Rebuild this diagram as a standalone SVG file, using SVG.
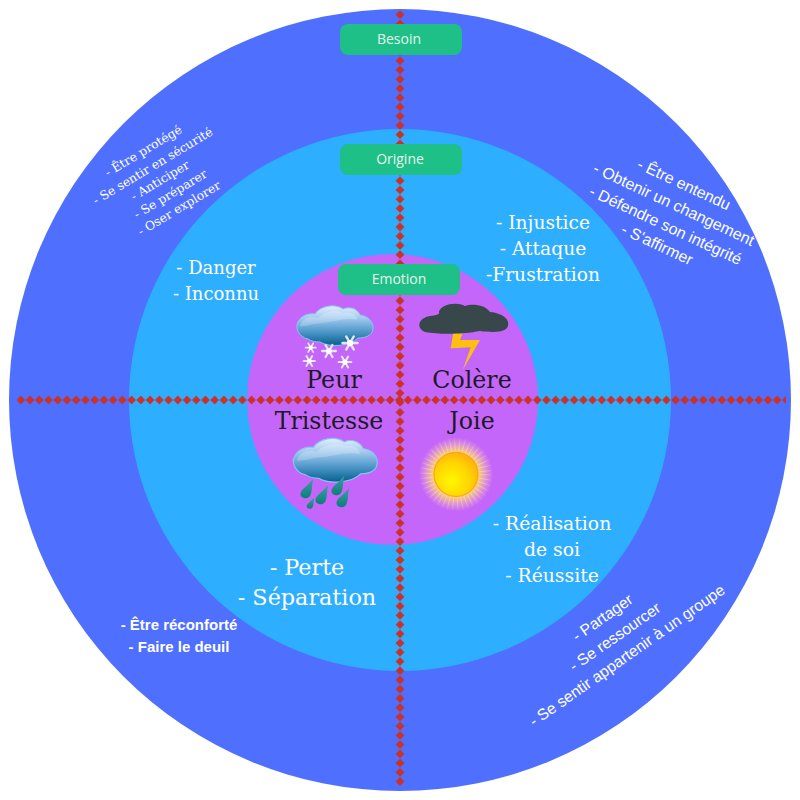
<svg xmlns="http://www.w3.org/2000/svg" width="800" height="800" viewBox="0 0 800 800">
<style>
.ser{font-family:"DejaVu Serif","Liberation Serif",serif}
.san{font-family:"Liberation Sans",Arial,sans-serif}
.w{fill:#fff}
.m{text-anchor:middle}
.emo{font-size:23.700px;fill:#1c1a22;text-anchor:middle}
.pill{fill:#1fbf88}
.pt{font-family:"Open Sans","Noto Sans",sans-serif;font-size:14px;fill:#e6f6ef;text-anchor:middle}
.flake line{stroke:#e4e6ea;stroke-width:2;stroke-linecap:round}
.flake circle{fill:#fff}
.drop{fill:url(#dropG)}
.conn{stroke-width:10;fill:none}
</style>
<defs>
<pattern id="hL" patternUnits="userSpaceOnUse" x="394.700" y="395" width="9.230" height="10"><path d="M4.600 .5L9 5L4.600 9.500L.2 5Z" fill="#c8322a"/></pattern>
<pattern id="hR" patternUnits="userSpaceOnUse" x="403.400" y="395" width="9.230" height="10"><path d="M4.600 .5L9 5L4.600 9.500L.2 5Z" fill="#c8322a"/></pattern>
<pattern id="vT" patternUnits="userSpaceOnUse" x="395" y="397.700" width="10" height="9.230"><path d="M5 .2L9.500 4.600L5 9L.5 4.600Z" fill="#c8322a"/></pattern>
<pattern id="vB" patternUnits="userSpaceOnUse" x="395" y="407.700" width="10" height="9.230"><path d="M5 .2L9.500 4.600L5 9L.5 4.600Z" fill="#c8322a"/></pattern>
<linearGradient id="cloudG" x1="0" y1="0" x2="0" y2="1"><stop offset="0" stop-color="#e3effd"/><stop offset=".3" stop-color="#a4cbee"/><stop offset=".6" stop-color="#5a9fd0"/><stop offset="1" stop-color="#04618f"/></linearGradient>
<linearGradient id="dropG" x1="0" y1="0" x2="0" y2="1"><stop offset="0" stop-color="#3f9fa8"/><stop offset="1" stop-color="#0b7f78"/></linearGradient>
<radialGradient id="sunG" cx=".4" cy=".65" r=".7"><stop offset="0" stop-color="#fff700"/><stop offset=".6" stop-color="#ffd400"/><stop offset="1" stop-color="#ffac10"/></radialGradient>
<radialGradient id="haloG"><stop offset=".6" stop-color="#ffd76a" stop-opacity=".95"/><stop offset=".8" stop-color="#ffd0a0" stop-opacity=".45"/><stop offset="1" stop-color="#ffc8c0" stop-opacity="0"/></radialGradient>
<radialGradient id="rayG" gradientUnits="userSpaceOnUse" cx="456" cy="474.300" r="37"><stop offset=".6" stop-color="#ffe27a" stop-opacity=".9"/><stop offset="1" stop-color="#ffe9b0" stop-opacity="0"/></radialGradient>
<g id="cloud">
<path d="M308 339C298 337 295 327 298 322C301 315 310 313 315 314C320 306 335 303 343 309C350 306 358 309 360 315C368 316 374 322 373 329C372 336 365 338 358 338C350 346 330 348 320 342C315 342 311 341 308 339Z" fill="url(#cloudG)" stroke="#86c6f4" stroke-width="1"/>
<path d="M300 326C302 318 312 316 318 318C326 310 338 310 344 313C352 311 358 316 357 320C345 317 335 322 322 323C315 323 305 327 300 326Z" fill="#fff" opacity=".22"/>
</g>
<g id="flake" class="flake"><line x1="-6" y1="0" x2="6" y2="0"/><line x1="-3" y1="-5.200" x2="3" y2="5.200"/><line x1="-3" y1="5.200" x2="3" y2="-5.200"/><circle r="2.500"/></g>
<path id="drop" class="drop" d="M7 -13C6 -7 6 -2 5 1.500C4.500 5 1 7 -2 6C-5.500 5 -6.500 2 -4.500 -1C-2.500 -4 2 -7 7 -13Z"/>
</defs>

<rect width="800" height="800" fill="#fff"/>
<circle id="outer-ring" cx="400" cy="400" r="391" fill="#4f6fff"/>
<circle id="middle-ring" cx="400" cy="400" r="271" fill="#2eaeff"/>
<circle id="inner-ring" cx="392.500" cy="399.500" r="145.500" fill="#c466fa"/>

<g id="connectors" class="conn">
<line x1="17" y1="400" x2="403.900" y2="400" stroke="url(#hL)"/>
<line x1="403.400" y1="400" x2="786" y2="400" stroke="url(#hR)"/>
<line x1="400" y1="11" x2="400" y2="406.900" stroke="url(#vT)"/>
<line x1="400" y1="407.700" x2="400" y2="786" stroke="url(#vB)"/>
</g>

<g id="icon-snow">
<use href="#cloud"/>
<use href="#flake" transform="translate(310.700,347.700) scale(.85)"/>
<use href="#flake" transform="translate(329,351) scale(1.15)"/>
<use href="#flake" transform="translate(350,343) scale(1.25)"/>
<use href="#flake" transform="translate(309.300,361) scale(.95)"/>
<use href="#flake" transform="translate(345,362) scale(1.05)"/>
</g>
<g id="icon-storm">
<polygon points="453.300,333 462.700,333 460,340 480,340 462.700,370 470.700,347.300 450.700,348.300" fill="#fdc010"/>
<path d="M425 332C416 328 418 318 430 316C436 315 440 315 439 312C440 305 456 301 465 306C472 303 486 305 490 312C502 313 510 319 508 326C506 332 496 333 480 331C465 334 440 335 425 332Z" fill="#37474a"/>
</g>
<g id="icon-rain">
<use href="#cloud" transform="translate(293,437.500) scale(1.1) translate(-296.500,-305)"/>
<use href="#drop" transform="translate(306,492)"/>
<use href="#drop" transform="translate(321,498)"/>
<use href="#drop" transform="translate(337,489)"/>
<use href="#drop" transform="translate(342,501)"/>
<use href="#drop" transform="translate(310,505) scale(.6)"/>
</g>
<g id="icon-sun">
<circle cx="456" cy="474.300" r="37" fill="url(#haloG)"/>
<circle cx="456" cy="474.300" r="30" fill="none" stroke="url(#rayG)" stroke-width="14" stroke-dasharray="1 3.500"/>
<circle cx="456" cy="474.300" r="22" fill="url(#sunG)" stroke="#f9a61a" stroke-width="1.200"/>
</g>

<g id="node-peur"><text class="ser emo" x="334" y="388">Peur</text></g>
<g id="node-colere"><text class="ser emo" x="472" y="388">Colère</text></g>
<g id="node-tristesse"><text class="ser emo" x="329" y="429">Tristesse</text></g>
<g id="node-joie"><text class="ser emo" x="472" y="429">Joie</text></g>

<g id="node-besoin"><rect class="pill" x="340" y="24" width="122" height="31" rx="8"/><text class="pt" x="399" y="44">Besoin</text></g>
<g id="node-origine"><rect class="pill" x="340" y="144" width="122" height="31" rx="8"/><text class="pt" x="400" y="164">Origine</text></g>
<g id="node-emotion"><rect class="pill" x="338" y="264" width="122" height="31" rx="8"/><text class="pt" x="399" y="284">Emotion</text></g>

<g id="origine-peur" class="ser w m" font-size="18"><text x="216" y="274">- Danger</text><text x="216" y="300">- Inconnu</text></g>
<g id="origine-colere" class="ser w m" font-size="18.700"><text x="543" y="229">- Injustice</text><text x="543" y="255">- Attaque</text><text x="543" y="281">-Frustration</text></g>
<g id="origine-tristesse" class="ser w m" font-size="22.300"><text x="307" y="575">- Perte</text><text x="307" y="605">- Séparation</text></g>
<g id="origine-joie" class="ser w m" font-size="18.800"><text x="552" y="530">- Réalisation</text><text x="552" y="556">de soi</text><text x="552" y="582">- Réussite</text></g>

<g id="besoin-peur" class="ser w" font-size="12.300">
<text transform="translate(108,177) rotate(-31)">- Être protégé</text>
<text transform="translate(96,205) rotate(-31)">- Se sentir en sécurité</text>
<text transform="translate(134,201) rotate(-31)">- Anticiper</text>
<text transform="translate(137,219) rotate(-31)">- Se préparer</text>
<text transform="translate(141,236) rotate(-31)">- Oser explorer</text>
</g>
<g id="besoin-colere" class="san w" font-size="15.900">
<text transform="translate(636,168) rotate(25)">- Être entendu</text>
<text transform="translate(592,172) rotate(25)">- Obtenir un changement</text>
<text transform="translate(588,195) rotate(25)">- Défendre son intégrité</text>
<text transform="translate(620,233) rotate(25)">- S'affirmer</text>
</g>
<g id="besoin-tristesse" class="san w m" font-size="15" font-weight="700"><text x="179" y="630">- Être réconforté</text><text x="179" y="652">- Faire le deuil</text></g>
<g id="besoin-joie" class="san w" font-size="15.700">
<text transform="translate(577,642) rotate(-35)">- Partager</text>
<text transform="translate(574,672) rotate(-35)">- Se ressourcer</text>
<text transform="translate(534,727) rotate(-35)">- Se sentir appartenir à un groupe</text>
</g>
</svg>
